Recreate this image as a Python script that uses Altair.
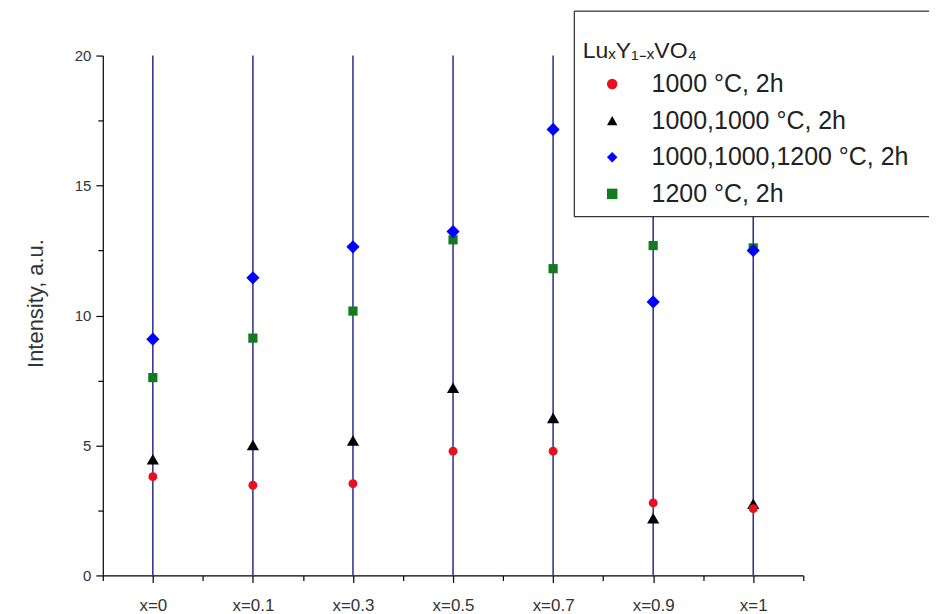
import altair as alt
import pandas as pd

categories = ["x=0", "x=0.1", "x=0.3", "x=0.5", "x=0.7", "x=0.9", "x=1"]
series_names = ["1000 °C, 2h", "1000,1000 °C, 2h", "1000,1000,1200 °C, 2h", "1200 °C, 2h"]
red_1000 = [3.80, 3.47, 3.53, 4.78, 4.78, 2.79, 2.57]
black_1000_1000 = [4.47, 5.02, 5.19, 7.22, 6.06, 2.20, 2.76]
blue_1000_1000_1200 = [9.09, 11.45, 12.64, 13.23, 17.16, 10.52, 12.50]
green_1200 = [7.61, 9.13, 10.17, 12.91, 11.80, 12.69, 12.60]
series_values = [red_1000, black_1000_1000, blue_1000_1000_1200, green_1200]
series_colors = ["#e8101c", "#000000", "#0000ff", "#147a1e"]
series_shapes = ["circle", "triangle-up", "diamond", "square"]
series_sizes = [80, 150, 175, 85]
draw_order = [3, 1, 0, 2]
y_ticks = [0, 2.5, 5, 7.5, 10, 12.5, 15, 17.5, 20]

rows = []
for name, vals in zip(series_names, series_values):
    for i, v in enumerate(vals):
        rows.append({"pos": i + 1, "cat": categories[i], "series": name, "value": v})
df = pd.DataFrame(rows)
lines_df = pd.DataFrame({"pos": list(range(1, len(categories) + 1)), "lo": 0, "hi": 20})

x_vals = [0.5 + 0.5 * k for k in range(2 * len(categories) + 1)]
label_arr = "[" + ",".join("'" + c + "'" for c in categories) + "]"
x_label_expr = f"datum.value % 1 === 0 ? {label_arr}[datum.value - 1] : ''"

font = "Liberation Sans"

x_axis = alt.Axis(
    values=x_vals, labelExpr=x_label_expr, title=None, grid=False,
    domainColor="#000000", tickColor="#000000", domainWidth=1.2, tickWidth=1.2,
    tickSize={"condition": {"test": "datum.value % 1 !== 0", "value": 5}, "value": 7},
    labelFont=font, labelFontSize=17, labelColor="#333333", labelPadding=15,
    labelFlush=False, labelOverlap=False,
)
y_axis = alt.Axis(
    values=y_ticks, labelExpr="datum.value % 5 === 0 ? datum.label : ''",
    title="Intensity, a.u.", grid=False,
    domainColor="#000000", tickColor="#000000", domainWidth=1.2, tickWidth=1.2,
    tickSize={"condition": {"test": "datum.value % 5 !== 0", "value": 5}, "value": 7},
    labelFont=font, labelFontSize=15, labelColor="#333333", labelPadding=5,
    titleFont=font, titleFontSize=22, titleFontWeight="normal", titleColor="#333333",
    titlePadding=27, titleY=248,
)

x_scale = alt.Scale(domain=[0.5, len(categories) + 0.5], nice=False, zero=False)
y_scale = alt.Scale(domain=[0, 20], nice=False)
color_scale = alt.Scale(domain=series_names, range=series_colors)
shape_scale = alt.Scale(domain=series_names, range=series_shapes)

legend_title = "LuₓY₁₋ₓVO₄" + "\u2800" * 25
legend = alt.Legend(
    title=["", legend_title], orient="none", legendX=472, legendY=-45,
    strokeColor="#000000", fillColor="#ffffff", padding=9,
    titleFont=font, titleFontSize=23, titleFontWeight="normal", titleColor="#222222",
    titleLineHeight=20, titlePadding=9, titleLimit=800,
    labelFont=font, labelFontSize=25, labelColor="#222222",
    symbolOffset=17, labelOffset=27, rowPadding=10.7, symbolSize=110,
    labelLimit=600,
)

rules = alt.Chart(lines_df).mark_rule(color="#2b2b8c", strokeWidth=1.5).encode(
    x=alt.X("pos:Q", scale=x_scale, axis=x_axis),
    y=alt.Y("lo:Q", scale=y_scale, axis=y_axis),
    y2="hi:Q",
)

layers = [rules]
for n, k in enumerate(draw_order):
    name = series_names[k]
    layers.append(
        alt.Chart(df).transform_filter(alt.datum.series == name)
        .mark_point(filled=True, opacity=1, strokeWidth=0, size=series_sizes[k])
        .encode(
            x=alt.X("pos:Q", scale=x_scale),
            y=alt.Y("value:Q", scale=y_scale),
            color=alt.Color("series:N", scale=color_scale, legend=legend if n == 0 else None),
            shape=alt.Shape("series:N", scale=shape_scale, legend=None),
        )
    )

chart = alt.layer(*layers).resolve_legend(color="shared", shape="shared").properties(
    width=702, height=521,
    padding={"left": 95, "top": 47, "right": 126, "bottom": 38},
    autosize=alt.AutoSizeParams(type="none"),
    background="#ffffff",
).configure_view(stroke=None)

chart.save("out.html", embed_options={"renderer": "svg", "actions": False})
